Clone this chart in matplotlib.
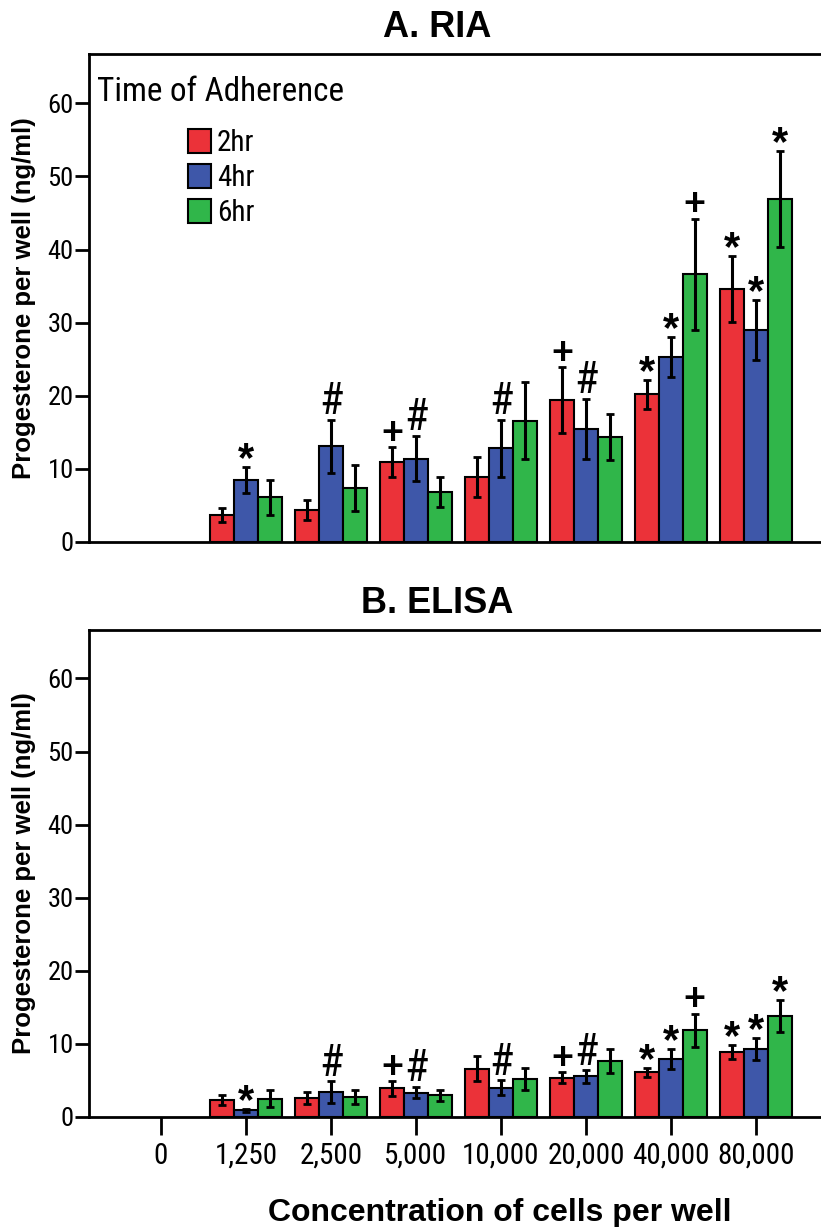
import os
import re
import numpy as np
import matplotlib
matplotlib.use("Agg")
import matplotlib.pyplot as plt
from matplotlib import font_manager
from matplotlib.font_manager import FontProperties
from matplotlib.textpath import TextPath
from matplotlib.patches import Patch

# ---- data -------------------------------------------------------------
concentrations = ["0", "1,250", "2,500", "5,000", "10,000", "20,000", "40,000", "80,000"]
series_names = ["2hr", "4hr", "6hr"]
colors = ["#EB3239", "#3E57A9", "#30B64A"]

# RIA (ng/ml), cells 1,250 ... 80,000
ria_2hr = [3.7, 4.4, 10.9, 8.9, 19.4, 20.2, 34.6]
ria_2hr_err = [1.0, 1.4, 2.05, 2.7, 4.5, 1.95, 4.5]
ria_4hr = [8.5, 13.1, 11.4, 12.8, 15.5, 25.3, 29.0]
ria_4hr_err = [1.8, 3.6, 3.1, 3.9, 4.1, 2.75, 4.15]
ria_6hr = [6.1, 7.4, 6.8, 16.6, 14.3, 36.6, 46.9]
ria_6hr_err = [2.4, 3.2, 2.05, 5.3, 3.15, 7.65, 6.55]

# ELISA (ng/ml)
elisa_2hr = [2.3, 2.6, 3.9, 6.6, 5.4, 6.1, 8.9]
elisa_2hr_err = [0.65, 0.8, 1.0, 1.7, 0.75, 0.65, 0.9]
elisa_4hr = [0.9, 3.4, 3.35, 4.0, 5.55, 7.9, 9.35]
elisa_4hr_err = [0.15, 1.5, 0.8, 1.05, 0.85, 1.4, 1.5]
elisa_6hr = [2.5, 2.75, 2.95, 5.15, 7.65, 11.85, 13.8]
elisa_6hr_err = [1.15, 0.95, 0.75, 1.5, 1.6, 2.3, 2.2]

# significance markers (same pattern in both assays)
sig_2hr = ["", "", "+", "", "+", "*", "*"]
sig_4hr = ["*", "#", "#", "#", "#", "*", "*"]
sig_6hr = ["", "", "", "", "", "+", "*"]

yticks = [0, 10, 20, 30, 40, 50, 60]


# ---- fonts ------------------------------------------------------------
def narrow_font_file():
    """Pick a condensed sans-serif regular face if one is installed."""
    patterns = [
        r"^liberationsansnarrow-regular",
        r"^arialn\.ttf",
        r"^notosans-condensed\.ttf",
        r"^robotocondensed-regular",
        r"^opensans-?condensed-?regular",
        r"^dejavusanscondensed\.ttf",
        r"^notosans-semicondensed\.ttf",
    ]
    files = [f.fname for f in font_manager.fontManager.ttflist]
    for pat in patterns:
        for fn in files:
            if re.search(pat, os.path.basename(fn).lower().replace("_", "")):
                return fn
    return None


def digit_width(fp):
    return TextPath((0, 0), "0000", prop=fp, size=1).get_extents().width


BOLD = "Liberation Sans"
nfile = narrow_font_file()
base_fp = FontProperties(family=BOLD)
target_w = digit_width(base_fp) * 0.82          # width of a narrow Arial-like face
if nfile:
    narrow_base = FontProperties(fname=nfile)
else:
    narrow_base = base_fp
shrink = min(1.0, (target_w / digit_width(narrow_base)) ** 0.85)


def narrow(size):
    fp = narrow_base.copy()
    fp.set_size(size * shrink)
    return fp


plt.rcParams["font.family"] = ["Liberation Sans", "DejaVu Sans"]

W, H = 821, 1227
fig = plt.figure(figsize=(W / 100, H / 100), dpi=100)


def px_axes(left, top, right, bottom):
    return [left / W, 1 - bottom / H, (right - left) / W, (bottom - top) / H]


axA = fig.add_axes(px_axes(89, 54, 835, 542))
axB = fig.add_axes(px_axes(89, 630, 835, 1117))

x = np.arange(1, len(concentrations))
bw = 0.28
marker_style = {
    "*": dict(fp=FontProperties(family=BOLD, weight="bold", size=30), dy=-3.0),
    "#": dict(fp=narrow(33), dy=4.0),
    "+": dict(fp=FontProperties(family=BOLD, weight="bold", size=27), dy=2.5),
}


def draw_panel(ax, vals, errs, ymax, title):
    sigs = [sig_2hr, sig_4hr, sig_6hr]
    for i, (v, e, c, s) in enumerate(zip(vals, errs, colors, sigs)):
        xi = x + (i - 1) * bw
        ax.bar(xi, v, width=bw, color=c, edgecolor="black", linewidth=1.5, zorder=2)
        ax.errorbar(xi, v, yerr=e, fmt="none", ecolor="black", elinewidth=2.2,
                    capsize=2.7, capthick=2.0, zorder=3)
        for xv, yv, ev, sym in zip(xi, v, e, s):
            if not sym:
                continue
            st = marker_style[sym]
            ax.annotate(sym, (xv, yv + ev), xytext=(0, st["dy"]),
                        textcoords="offset points", ha="center", va="baseline",
                        fontproperties=st["fp"], zorder=4)
    ax.set_xlim(-0.847, (835 - 161) / 85)
    ax.set_ylim(0, ymax)
    ax.spines["right"].set_visible(False)
    for sp in ["left", "top", "bottom"]:
        ax.spines[sp].set_linewidth(2.0)
    ax.set_yticks(yticks)
    ax.set_yticklabels([str(t) for t in yticks], fontproperties=narrow(20))
    ax.tick_params(axis="y", direction="out", length=10, width=2.0, pad=1)
    ax.set_ylabel("Progesterone per well (ng/ml)", family=BOLD, fontweight="bold",
                  fontsize=18.5, labelpad=8)
    ax.set_title(title, family=BOLD, fontweight="bold", fontsize=26, pad=12,
                 x=(437 - 89) / (835 - 89))


draw_panel(axA, [ria_2hr, ria_4hr, ria_6hr],
           [ria_2hr_err, ria_4hr_err, ria_6hr_err], (542 - 54) / 7.31, "A. RIA")
draw_panel(axB, [elisa_2hr, elisa_4hr, elisa_6hr],
           [elisa_2hr_err, elisa_4hr_err, elisa_6hr_err], (1117 - 630) / 7.31, "B. ELISA")

# x axis: only the lower panel carries ticks and labels
axA.set_xticks([])
axB.set_xticks(np.arange(len(concentrations)))
axB.set_xticklabels(concentrations, fontproperties=narrow(22))
axB.tick_params(axis="x", direction="out", length=13, width=2.0, pad=5)
axB.set_xlabel("Concentration of cells per well", family=BOLD, fontweight="bold",
               fontsize=23, labelpad=20, x=(500 - 89) / (835 - 89))

# legend
fig.text(97 / W, 1 - 101 / H, "Time of Adherence", fontproperties=narrow(25),
         ha="left", va="baseline")
handles = [Patch(facecolor=c, edgecolor="black", linewidth=1.5) for c in colors]
axA.legend(handles, series_names, loc="upper left",
           bbox_to_anchor=(188 / W, 1 - 129 / H), bbox_transform=fig.transFigure,
           frameon=False, prop=narrow(22), handlelength=0.75 / shrink,
           handleheight=0.85 / shrink, handletextpad=0.2, labelspacing=0.22 / shrink,
           borderpad=0, borderaxespad=0)

fig.savefig("out.png", dpi=100)
